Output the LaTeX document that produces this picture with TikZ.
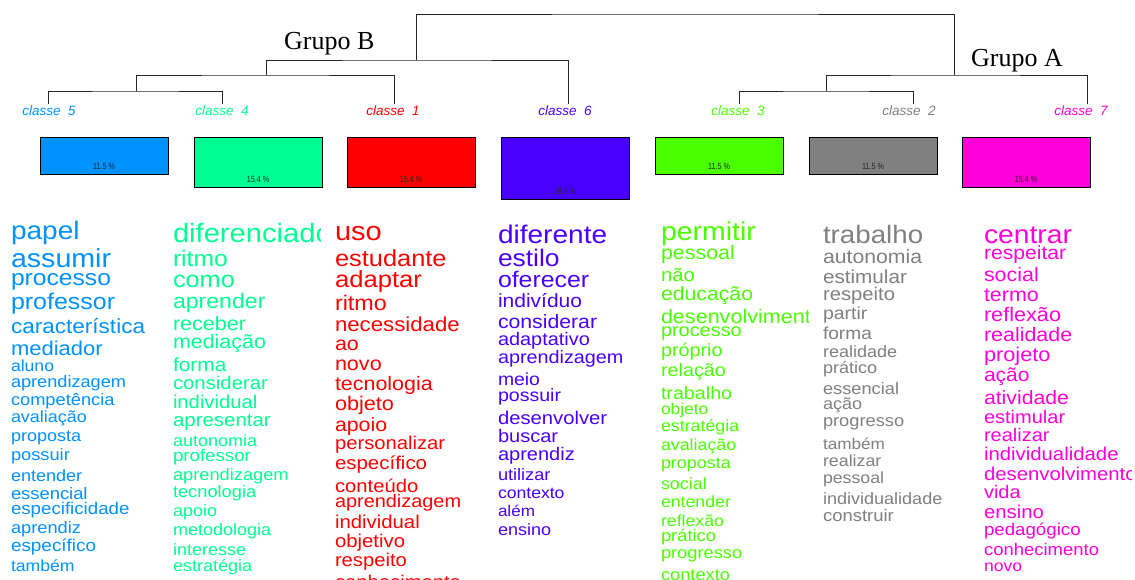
\documentclass[tikz,border=0pt]{standalone}
\usepackage{fontspec}
\usepackage{graphicx}
\newfontfamily\wfont{Liberation Sans}
\newfontfamily\gfont{Liberation Serif}
\definecolor{cA}{HTML}{FF0000}
\definecolor{cB}{HTML}{808080}
\definecolor{cC}{HTML}{49FF00}
\definecolor{cD}{HTML}{00FF92}
\definecolor{cE}{HTML}{0092FF}
\definecolor{cF}{HTML}{4900FF}
\definecolor{cG}{HTML}{FF00DB}
\tikzset{
  word/.style={anchor=base west, inner sep=0pt, outer sep=0pt},
  dendro/.style={line width=1pt, draw=black!85},
  classbox/.style={draw=black, line width=0.8pt, minimum width=128pt, anchor=north, inner sep=0pt},
  pct/.style={font=\wfont\fontsize{9}{9}\selectfont, inner sep=0pt, text=black!85},
  clabel/.style={font=\wfont\itshape\fontsize{13.5}{13.5}\selectfont, inner sep=0pt},
  grupo/.style={font=\gfont\fontsize{26}{26}\selectfont, anchor=base west, inner sep=0pt},
}
\newcommand\sx[1]{\scalebox{1.1}[1]{#1}}
\newcommand\wordcol[4]{%
  \begin{scope}
    \clip (#2-3,200) rectangle (#2+147,579);
    \foreach \wy/\wfs/\wtxt [count=\wi] in {#4} {
      \node[word, text=#3, font=\wfont\fontsize{\wfs}{\wfs}\selectfont] (#1\wi) at (#2,\wy) {\sx{\wtxt}};
    }
  \end{scope}}
\begin{document}
\begin{tikzpicture}[x=1pt,y=-1pt]
\fill[white] (0,0) rectangle (1135,579);
\useasboundingbox (0,0) rectangle (1135,579);

% dendrogram
\coordinate (l5) at (48,104);
\coordinate (l4) at (222,104);
\coordinate (l1) at (394,104);
\coordinate (l6) at (568,104);
\coordinate (l3) at (739,104);
\coordinate (l2) at (913,104);
\coordinate (l7) at (1087,104);
\coordinate (n54) at (136,91);
\coordinate (n541) at (266,75);
\coordinate (nB) at (416,60);
\coordinate (n32) at (826,91);
\coordinate (nA) at (954,75);
\coordinate (root) at (685,14);
\draw[dendro] (l5) |- (n54) -| (l4);
\draw[dendro] (n54) |- (n541) -| (l1);
\draw[dendro] (n541) |- (nB) -| (l6);
\draw[dendro] (l3) |- (n32) -| (l2);
\draw[dendro] (n32) |- (nA) -| (l7);
\draw[dendro] (nB) |- (root) -| (nA);

\node[grupo] (gB) at (284,49) {Grupo B};
\node[grupo] (gA) at (971,66) {Grupo A};

% class labels
\node[clabel, text=cE] (lab5) at (49,111) {classe\ \ 5};
\node[clabel, text=cD] (lab4) at (222,111) {classe\ \ 4};
\node[clabel, text=cA] (lab1) at (393,111) {classe\ \ 1};
\node[clabel, text=cF] (lab6) at (565,111) {classe\ \ 6};
\node[clabel, text=cC] (lab3) at (738,111) {classe\ \ 3};
\node[clabel, text=cB] (lab2) at (909,111) {classe\ \ 2};
\node[clabel, text=cG] (lab7) at (1081,111) {classe\ \ 7};

% boxes
\node[classbox, fill=cE, minimum height=37pt] (box5) at (104,137) {};
\node[classbox, fill=cD, minimum height=50pt] (box4) at (258,137) {};
\node[classbox, fill=cA, minimum height=50pt] (box1) at (411,137) {};
\node[classbox, fill=cF, minimum height=62pt] (box6) at (565,137) {};
\node[classbox, fill=cC, minimum height=37pt] (box3) at (719,137) {};
\node[classbox, fill=cB, minimum height=37pt] (box2) at (873,137) {};
\node[classbox, fill=cG, minimum height=50pt] (box7) at (1026,137) {};
\node[pct] (p5) at ([yshift=8.5pt]box5.south) {\scalebox{0.8}[1]{11.5 \%}};
\node[pct] (p4) at ([yshift=8.5pt]box4.south) {\scalebox{0.8}[1]{15.4 \%}};
\node[pct] (p1) at ([yshift=8.5pt]box1.south) {\scalebox{0.8}[1]{15.4 \%}};
\node[pct] (p6) at ([yshift=8.5pt]box6.south) {\scalebox{0.8}[1]{19.2 \%}};
\node[pct] (p3) at ([yshift=8.5pt]box3.south) {\scalebox{0.8}[1]{11.5 \%}};
\node[pct] (p2) at ([yshift=8.5pt]box2.south) {\scalebox{0.8}[1]{11.5 \%}};
\node[pct] (p7) at ([yshift=8.5pt]box7.south) {\scalebox{0.8}[1]{15.4 \%}};

% word columns
\wordcol{wE}{11}{cE}{239/25.5/papel, 267/26/assumir, 285/22.4/processo, 309/22.7/professor,
  333/20.5/característica, 355/20/mediador, 371.5/16/aluno, 387/16.5/aprendizagem,
  405/16.6/competência, 422.5/16.3/avaliação, 441.5/16.4/proposta, 460.5/16.6/possuir,
  481/16.4/entender, 499/16.7/essencial, 514.5/17/especificidade, 533/16.6/aprendiz,
  551.5/17.2/específico, 571.5/16/também}
\wordcol{wD}{173}{cD}{242.5/26.5/diferenciado, 266.5/22.5/ritmo, 287/23/como, 308/21/aprender,
  330.5/19.6/receber, 348/19.5/mediação, 371.5/19/forma, 389/18.5/considerar,
  408/18.4/individual, 426.5/18.6/apresentar, 446.5/16.4/autonomia, 461.5/17/professor,
  480/16.6/aprendizagem, 497.5/16.6/tecnologia, 516.5/16.4/apoio, 535/16.4/metodologia,
  555/16.4/interesse, 571/16.4/estratégia}
\wordcol{wA}{335}{cA}{240.5/26.4/uso, 266/23.1/estudante, 287/23.3/adaptar, 310/21.2/ritmo,
  331.5/20.2/necessidade, 350/19.5/ao, 370.5/19.6/novo, 390/19.5/tecnologia,
  410.5/19.7/objeto, 431/19.4/apoio, 449/18.4/personalizar, 469/18.6/específico,
  492.5/18.4/conteúdo, 507/18.1/aprendizagem, 528/18.5/individual, 547/18.5/objetivo,
  566.5/18.4/respeito, 588/18.4/conhecimento}
\wordcol{wF}{498}{cF}{243/25.5/diferente, 266.5/24/estilo, 287/22.6/oferecer, 307/19.1/indivíduo,
  328/19.3/considerar, 345/18.1/adaptativo, 363/18/aprendizagem, 385/17.6/meio,
  401.5/17.8/possuir, 424/18.4/desenvolver, 442.5/18.2/buscar, 460/18.2/aprendiz,
  480.5/16.5/utilizar, 498/16/contexto, 516.5/15.5/além, 535/16.4/ensino}
\wordcol{wC}{661}{cC}{240/25.9/permitir, 259.5/19.5/pessoal, 281.5/18.5/não, 300/19.3/educação,
  323/19.6/desenvolvimento, 336/18.1/processo, 356.5/18/próprio, 376.5/18/relação,
  399/17.9/trabalho, 414/15.8/objeto, 431.5/16.2/estratégia, 450/16.2/avaliação,
  468/16.3/proposta, 489/16.3/social, 507/16.1/entender, 526/16.1/reflexão,
  541.5/16.7/prático, 558/16.6/progresso, 580/16.6/contexto}
\wordcol{wB}{823}{cB}{243/25.2/trabalho, 263/19.3/autonomia, 283/18.8/estimular, 300/18.4/respeito,
  319/17.7/partir, 339/17.4/forma, 357/16.4/realidade, 373/16.4/prático,
  394/16.6/essencial, 409/16.4/ação, 426/16.6/progresso, 449/15.6/também,
  466.5/16.2/realizar, 483/16.1/pessoal, 504/16.4/individualidade, 521.5/16.8/construir}
\wordcol{wG}{984}{cG}{243/25.7/centrar, 259/19.2/respeitar, 281.5/19.5/social, 301.5/19.5/termo,
  321.5/19.7/reflexão, 341.5/19.5/realidade, 361.5/19.8/projeto, 381.5/19.1/ação,
  404/19.3/atividade, 423/18.2/estimular, 441.5/18.2/realizar, 460.5/18.5/individualidade,
  480/18.5/desenvolvimento, 498/18.2/vida, 518/18.5/ensino, 535/17/pedagógico,
  555/16.8/conhecimento, 571/16/novo}
\end{tikzpicture}
\end{document}
